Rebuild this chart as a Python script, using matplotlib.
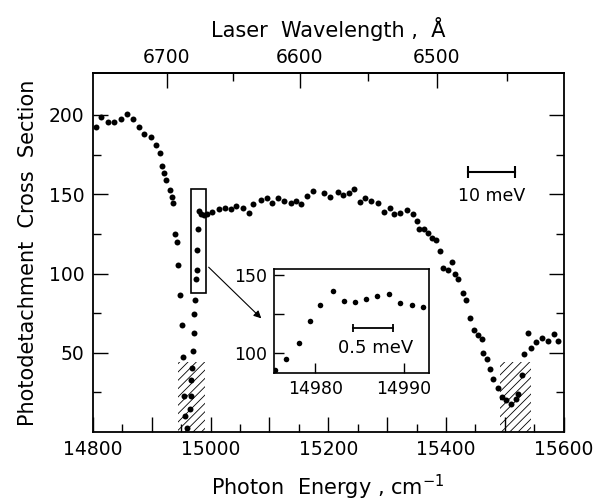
import numpy as np
import matplotlib
matplotlib.use("Agg")
import matplotlib.pyplot as plt
from matplotlib.patches import Rectangle
from matplotlib.ticker import FixedLocator

# photon energy (cm^-1) and cross section
energy = [14805.5, 14814.2, 14825.7, 14836.3, 14847.6, 14857.6, 14868.4, 14878.8, 14887.4, 14898.2,
          14907.0, 14913.9, 14917.0, 14921.2, 14924.1, 14931.2, 14933.7, 14935.6, 14939.1, 14942.2,
          14943.9, 14948.1, 14951.1, 14953.6, 14954.7, 14957.3, 14959.9, 14964.6, 14966.8, 14967.2,
          14969.1, 14969.9, 14971.6, 14972.3, 14973.6, 14975.8, 14976.2, 14977.4, 14979.0, 14980.7,
          14984.6, 14988.8, 14993.9, 15002.7, 15014.5, 15024.1, 15034.3, 15042.6, 15054.6, 15064.8,
          15072.5, 15085.3, 15096.5, 15105.2, 15114.6, 15124.3, 15136.1, 15145.2, 15154.2, 15164.2,
          15173.6, 15193.4, 15203.6, 15216.1, 15224.5, 15235.2, 15243.5, 15253.4, 15261.7, 15273.0,
          15284.9, 15294.3, 15304.3, 15312.3, 15321.9, 15333.6, 15343.9, 15350.8, 15354.4, 15363.3,
          15370.3, 15376.7, 15383.5, 15389.7, 15395.4, 15402.9, 15409.5, 15414.7, 15421.1, 15428.2,
          15434.5, 15440.7, 15448.3, 15454.1, 15460.5, 15463.7, 15469.4, 15474.7, 15480.6, 15488.2,
          15495.3, 15502.6, 15511.2, 15518.3, 15522.2, 15529.0, 15532.4, 15538.6, 15544.7, 15553.3,
          15563.5, 15572.6, 15583.3, 15590.7]
sigma = [192.5, 198.7, 195.6, 195.6, 197.6, 200.6, 197.7, 192.3, 188.1, 186.3,
         181.1, 175.9, 167.7, 163.1, 158.9, 152.9, 148.3, 144.5, 125.1, 119.9,
         105.2, 86.2, 67.3, 47.1, 23.0, 10.2, 2.5, 14.8, 22.8, 32.8,
         40.1, 50.9, 62.8, 74.2, 83.0, 96.3, 102.0, 114.6, 128.2, 139.2,
         137.4, 137.1, 137.4, 138.7, 140.9, 141.4, 140.8, 142.3, 141.6, 138.3,
         143.6, 146.2, 147.7, 144.6, 147.6, 145.7, 144.5, 145.7, 144.0, 149.1,
         152.2, 150.6, 148.3, 151.2, 149.7, 150.6, 153.6, 145.4, 147.6, 146.0,
         144.4, 139.0, 141.3, 137.4, 138.0, 140.0, 137.5, 133.4, 128.3, 127.8,
         125.5, 122.1, 120.9, 114.0, 103.6, 102.0, 107.0, 99.5, 96.8, 88.0,
         83.2, 72.1, 64.4, 61.2, 58.7, 50.1, 46.4, 39.9, 33.2, 27.8,
         22.1, 20.0, 18.0, 20.6, 23.7, 36.2, 49.0, 62.3, 53.3, 56.7,
         59.5, 57.5, 61.8, 57.6]

# high resolution scan shown in the inset
inset_energy = [14975.4, 14976.7, 14978.1, 14979.4, 14980.5, 14982.0, 14983.2,
                14984.5, 14985.7, 14987.0, 14988.3, 14989.6, 14990.9, 14992.2]
inset_sigma = [89.1, 96.6, 106.6, 120.5, 130.8, 139.6, 133.5,
               132.9, 134.8, 136.5, 137.6, 132.2, 130.8, 129.7]

hatch_spans = [(14944, 14991), (15491, 15544)]
hatch_top = 44
box = (14967, 14992, 87.4, 153.5)

x_major = list(range(14800, 15601, 100))
x_labels = ["14800", "", "15000", "", "15200", "", "15400", "", "15600"]
y_major = [50, 100, 150, 200]
y_minor = [25, 75, 125, 175]
wl_major = [6700, 6600, 6500]
wl_minor = [6650, 6550, 6450]

plt.rcParams["font.family"] = "DejaVu Sans"
plt.rcParams["hatch.linewidth"] = 0.6

fig = plt.figure(figsize=(5.99, 5.03), dpi=100)
ax = fig.add_axes([0.155, 0.141, 0.786, 0.714])

ax.plot(energy, sigma, "o", color="k", ms=4.3, mew=0)

for x0, x1 in hatch_spans:
    ax.add_patch(Rectangle((x0, 0), x1 - x0, hatch_top, fill=False,
                           hatch="////", edgecolor="k", lw=0))

ax.add_patch(Rectangle((box[0], box[2]), box[1] - box[0], box[3] - box[2],
                       fill=False, edgecolor="k", lw=1.2))
ax.annotate("", xy=(15089.6, 70.5), xytext=(14993.4, 105.2),
            arrowprops=dict(arrowstyle="-|>", color="k", lw=0.8, mutation_scale=11))

# 10 meV scale bar
ax.plot([15437, 15517.6], [164, 164], color="k", lw=1.5, marker="|", ms=8, mew=1.5)
ax.text(15477, 149, "10 meV", ha="center", va="center", fontsize=12.5)

ax.set_xlim(14800, 15600)
ax.set_ylim(0, 226.5)
ax.set_xticks(x_major)
ax.set_xticklabels(x_labels)
ax.xaxis.set_minor_locator(FixedLocator(list(range(14850, 15600, 100))))
ax.set_yticks(y_major)
ax.yaxis.set_minor_locator(FixedLocator(y_minor))
ax.tick_params(which="both", direction="in", top=False, right=True, labelsize=13.5, width=1)
ax.tick_params(which="major", length=11, pad=6)
ax.tick_params(which="minor", length=6)
for s in ax.spines.values():
    s.set_linewidth(1.3)
ax.set_xlabel("Photon  Energy , cm$^{-1}$", fontsize=15, labelpad=10)
ax.set_ylabel("Photodetachment  Cross  Section", fontsize=15, labelpad=8)


def to_wl(x):
    x = np.asarray(x, dtype=float)
    with np.errstate(divide="ignore"):
        return 1e8 / x


sec = ax.secondary_xaxis("top", functions=(to_wl, to_wl))
sec.set_xticks(wl_major)
sec.xaxis.set_minor_locator(FixedLocator(wl_minor))
sec.tick_params(which="both", direction="in", labelsize=13.5, width=1)
sec.tick_params(which="major", length=11, pad=4)
sec.tick_params(which="minor", length=6)
sec.spines["top"].set_linewidth(1.3)
sec.set_xlabel("Laser  Wavelength ,  Å", fontsize=15, labelpad=8)

# inset
axins = fig.add_axes([0.457, 0.258, 0.260, 0.207])
axins.plot(inset_energy, inset_sigma, "o", color="k", ms=4.0, mew=0)
axins.set_xlim(14975.3, 14992.9)
axins.set_ylim(87.2, 153.8)
axins.set_xticks([14980, 14990])
axins.set_yticks([100, 150])
axins.yaxis.set_minor_locator(FixedLocator([125]))
axins.tick_params(which="both", direction="in", labelsize=12.5, width=1)
axins.tick_params(which="major", length=7, pad=5)
axins.tick_params(which="minor", length=7)
for s in axins.spines.values():
    s.set_linewidth(1.2)
axins.plot([14984.3, 14988.8], [116.2, 116.2], color="k", lw=1.3, marker="|", ms=6, mew=1.3)
axins.text(14986.8, 103.4, "0.5 meV", ha="center", va="center", fontsize=13)

fig.savefig("out.png", dpi=100)
